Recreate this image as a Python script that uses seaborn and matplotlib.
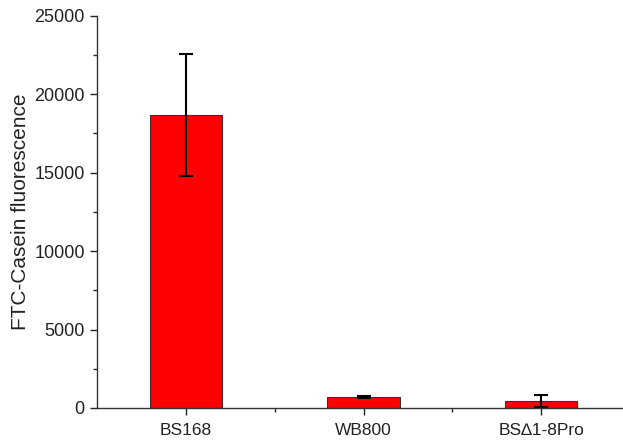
import pandas as pd
import seaborn as sns
import matplotlib.pyplot as plt
from matplotlib.ticker import MultipleLocator, FixedLocator

strains = ['BS168', 'WB800', 'BS\u22061-8Pro']
fluorescence = [18700, 700, 450]
errors = [3900, 60, 380]

df = pd.DataFrame({'strain': strains, 'fluorescence': fluorescence})

sns.set_style('ticks')
plt.rcParams['font.family'] = ['Liberation Sans', 'DejaVu Sans']

fig = plt.figure(figsize=(6.23, 4.41), dpi=100)
ax = fig.add_axes([0.156, 0.075, 0.855, 0.889])

sns.barplot(data=df, x='strain', y='fluorescence', color='#ff0000', saturation=1,
            edgecolor='#333333', linewidth=0.8, width=0.41, errorbar=None, ax=ax)
ax.errorbar(range(len(strains)), fluorescence, yerr=errors, fmt='none',
            ecolor='black', elinewidth=1.5, capsize=5, capthick=1.5)

ax.set_xlim(-0.5, 2.5)
ax.set_ylim(0, 25000)
ax.yaxis.set_major_locator(MultipleLocator(5000))
ax.yaxis.set_minor_locator(MultipleLocator(2500))
ax.xaxis.set_minor_locator(FixedLocator([0.5, 1.5]))
ax.tick_params(which='major', length=5, width=1, labelsize=13, colors='#222222', pad=4)
ax.tick_params(which='minor', length=3, width=1)
ax.tick_params(axis='x', labelsize=12.5, pad=6)
sns.despine(ax=ax)
for s in ['left', 'bottom']:
    ax.spines[s].set_linewidth(1)
    ax.spines[s].set_color('#333333')
ax.set_xlabel('')
ax.set_ylabel('FTC-Casein fluorescence', fontsize=15, labelpad=3, color='#222222')

fig.savefig('out.png', dpi=100)
